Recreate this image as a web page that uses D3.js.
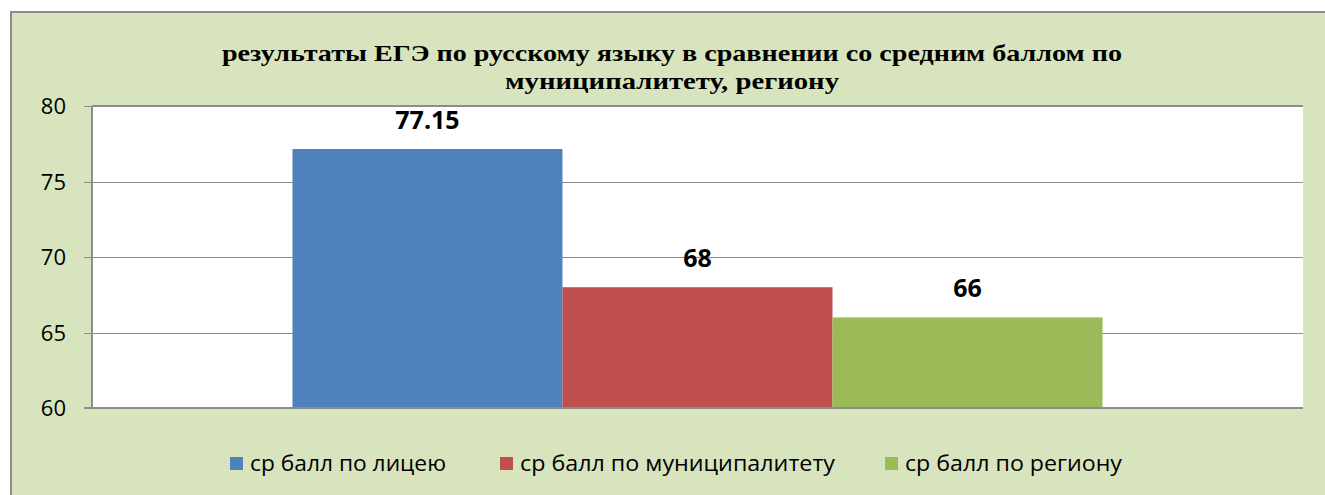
<!DOCTYPE html>
<html><head><meta charset="utf-8">
<script src="https://cdn.jsdelivr.net/npm/d3@7"></script>
<style>html,body{margin:0;padding:0;background:#fff;}svg{display:block;}</style>
</head><body>
<svg id="c" width="1325" height="495"></svg>
<script>
const titleLines = ["результаты ЕГЭ по русскому языку в сравнении со средним баллом по", "муниципалитету, региону"];
const seriesNames = ["ср балл по лицею", "ср балл по муниципалитету", "ср балл по региону"];
const seriesValues = [77.15, 68, 66];
const valueLabels = ["77.15", "68", "66"];
const yTicks = [60, 65, 70, 75, 80];
const colors = ["#4F81BD", "#C0504D", "#9BBB59"];

const svg = d3.select("#c");
// background frame
svg.append("rect").attr("x", 11).attr("y", 12).attr("width", 1330).attr("height", 500)
  .attr("fill", "#D7E4BD").attr("stroke", "#8C8C8C").attr("stroke-width", 2);

const m = {left: 92, right: 1303, top: 106, bottom: 408};
const y = d3.scaleLinear().domain([60, 80]).range([m.bottom, m.top]);
const xOuter = d3.scaleBand().domain(["g"]).range([m.left, m.right]).paddingInner(0).paddingOuter(0.2475);
const xInner = d3.scaleBand().domain(seriesNames).range([xOuter("g"), xOuter("g") + xOuter.bandwidth()]).padding(0);

// plot area
svg.append("rect").attr("x", m.left).attr("y", m.top).attr("width", m.right - m.left).attr("height", m.bottom - m.top).attr("fill", "#fff");
svg.append("line").attr("x1", m.left).attr("x2", m.right).attr("y1", m.top).attr("y2", m.top).attr("stroke", "#8C8C8C").attr("stroke-width", 2);

// gridlines and ticks
svg.append("g").selectAll("line").data(yTicks).join("line")
  .attr("x1", 84).attr("x2", m.right)
  .attr("y1", d => Math.round(y(d)) + 0.5).attr("y2", d => Math.round(y(d)) + 0.5)
  .attr("stroke", "#8C8C8C").attr("stroke-width", 1.2);

// bars
svg.append("g").selectAll("rect").data(seriesValues).join("rect")
  .attr("x", (d, i) => xInner(seriesNames[i]))
  .attr("width", xInner.bandwidth())
  .attr("y", d => y(d))
  .attr("height", d => y(60) - y(d))
  .attr("fill", (d, i) => colors[i]);

// axis lines
svg.append("line").attr("x1", m.left).attr("x2", m.left).attr("y1", m.top).attr("y2", m.bottom).attr("stroke", "#8C8C8C").attr("stroke-width", 2);
svg.append("line").attr("x1", 84).attr("x2", m.right).attr("y1", m.bottom).attr("y2", m.bottom).attr("stroke", "#8C8C8C").attr("stroke-width", 2);

// tick labels
svg.append("g").selectAll("text").data(yTicks).join("text")
  .attr("x", 66).attr("y", d => y(d) + 8)
  .attr("text-anchor", "end")
  .attr("font-family", "Open Sans, Lato, sans-serif").attr("font-size", 22).attr("fill", "#000")
  .text(d => d);

// value labels
svg.append("g").selectAll("text").data(seriesValues).join("text")
  .attr("x", (d, i) => xInner(seriesNames[i]) + xInner.bandwidth() / 2)
  .attr("y", d => y(d) - 20)
  .attr("text-anchor", "middle")
  .attr("font-family", "Open Sans, Lato, sans-serif").attr("font-weight", "bold").attr("font-size", 25).attr("fill", "#000")
  .text((d, i) => valueLabels[i]);

// title
const tw = [900, 334];
titleLines.forEach((t, i) => {
  const el = svg.append("text").attr("x", 672).attr("y", 61 + i * 28)
    .attr("text-anchor", "middle")
    .attr("font-family", "Liberation Serif, Times New Roman, serif").attr("font-weight", "bold").attr("font-size", 24)
    .attr("fill", "#000").text(t);
  el.attr("textLength", tw[i]).attr("lengthAdjust", "spacingAndGlyphs");
});

// legend
const legX = [230, 500, 885];
const legW = [196, 315, 217];
seriesNames.forEach((s, i) => {
  svg.append("rect").attr("x", legX[i]).attr("y", 457).attr("width", 13).attr("height", 13).attr("fill", colors[i]);
  svg.append("text").attr("x", legX[i] + 20).attr("y", 471)
    .attr("font-family", "Open Sans, Lato, sans-serif").attr("font-size", 22).attr("fill", "#000")
    .attr("textLength", legW[i]).attr("lengthAdjust", "spacingAndGlyphs")
    .text(s);
});
</script>
</body></html>
